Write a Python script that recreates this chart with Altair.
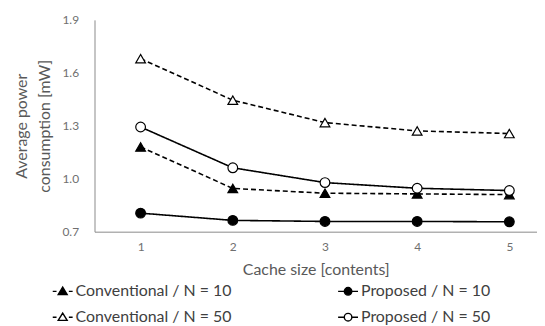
import altair as alt
import pandas as pd

cache = [1, 2, 3, 4, 5]
conv10 = [1.18, 0.945, 0.918, 0.914, 0.910]
prop10 = [0.805, 0.764, 0.758, 0.758, 0.756]
conv50 = [1.68, 1.445, 1.318, 1.271, 1.256]
prop50 = [1.293, 1.062, 0.978, 0.946, 0.933]

# order chosen so the 2-column legend reads row by row like the reference
series = ["Conventional / N = 10", "Conventional / N = 50",
          "Proposed / N = 10", "Proposed / N = 50"]
values = [conv10, conv50, prop10, prop50]

rows = []
for s, vals in zip(series, values):
    for c, v in zip(cache, vals):
        rows.append({"cache": c, "power": v, "series": s})
df = pd.DataFrame(rows)

tri = "M0,-0.42L0.45,0.32L-0.45,0.32Z"
circ = "M-0.38,0A0.38,0.38,0,1,0,0.38,0A0.38,0.38,0,1,0,-0.38,0Z"
dash_ends = "M-1,0H-0.62M0.62,0H1"
solid_ends = "M-1,0H-0.38M0.38,0H1"
legend_paths = [dash_ends + tri, dash_ends + tri, solid_ends + circ, solid_ends + circ]

fills = ["black", "white", "black", "white"]
dashes = [[5, 3], [5, 3], [1, 0], [1, 0]]
plot_shapes = ["triangle-up", "triangle-up", "circle", "circle"]

x_enc = alt.X("cache:Q",
              scale=alt.Scale(domain=[0.5, 5.3], nice=False),
              axis=alt.Axis(values=cache, format="d", grid=False, ticks=False,
                            labelPadding=10, labelFontSize=12, labelColor="#6f6f6f",
                            domainColor="#8a8a8a", title="Cache size [contents]",
                            titleFontSize=16, titleFontWeight="normal",
                            titleColor="#595959", titlePadding=9))
y_enc = alt.Y("power:Q",
              scale=alt.Scale(domain=[0.7, 1.9], nice=False, zero=False),
              axis=alt.Axis(values=[0.7, 1.0, 1.3, 1.6, 1.9], format=".1f",
                            grid=False, ticks=False, labelPadding=16,
                            labelFontSize=12, labelColor="#6f6f6f",
                            domainColor="#8a8a8a",
                            title=["Average power", "consumption [mW]"],
                            titleFontSize=16, titleFontWeight="normal",
                            titleLineHeight=23,
                            titleColor="#595959", titlePadding=10))

base = alt.Chart(df).encode(x=x_enc, y=y_enc)

lines = base.mark_line(color="black", strokeWidth=1.6).encode(
    detail="series:N",
    strokeDash=alt.StrokeDash("series:N",
                              scale=alt.Scale(domain=series, range=dashes),
                              legend=None))

points = base.mark_point(filled=True, stroke="black", strokeWidth=1.2, size=95,
                         opacity=1).encode(
    shape=alt.Shape("series:N",
                    scale=alt.Scale(domain=series, range=plot_shapes),
                    legend=None),
    fill=alt.Fill("series:N", scale=alt.Scale(domain=series, range=fills), legend=None))

legend_layer = base.mark_point(filled=True, stroke="black", strokeWidth=1.4,
                               opacity=1).encode(
    shape=alt.Shape("series:N", sort=series,
                    scale=alt.Scale(domain=series, range=legend_paths),
                    legend=alt.Legend(title=None, orient="none", legendX=-43, legendY=262,
                                      columns=2, columnPadding=104, rowPadding=7,
                                      symbolSize=400, labelFontSize=16,
                                      labelColor="#404040", labelOffset=2,
                                      symbolStrokeWidth=1.4, padding=0)),
    fill=alt.Fill("series:N", sort=series,
                  scale=alt.Scale(domain=series, range=fills),
                  legend=alt.Legend(title=None))
).transform_filter("false")

chart = alt.layer(lines, points, legend_layer).resolve_scale(
    shape="independent", fill="independent"
).properties(
    width=445, height=213,
    autosize=alt.AutoSizeParams(type="none"),
    padding={"left": 87, "top": 11, "right": 0, "bottom": 110},
).configure(font="Lato").configure_view(stroke=None)

chart.save("out.html", embed_options={"renderer": "svg", "actions": False})
